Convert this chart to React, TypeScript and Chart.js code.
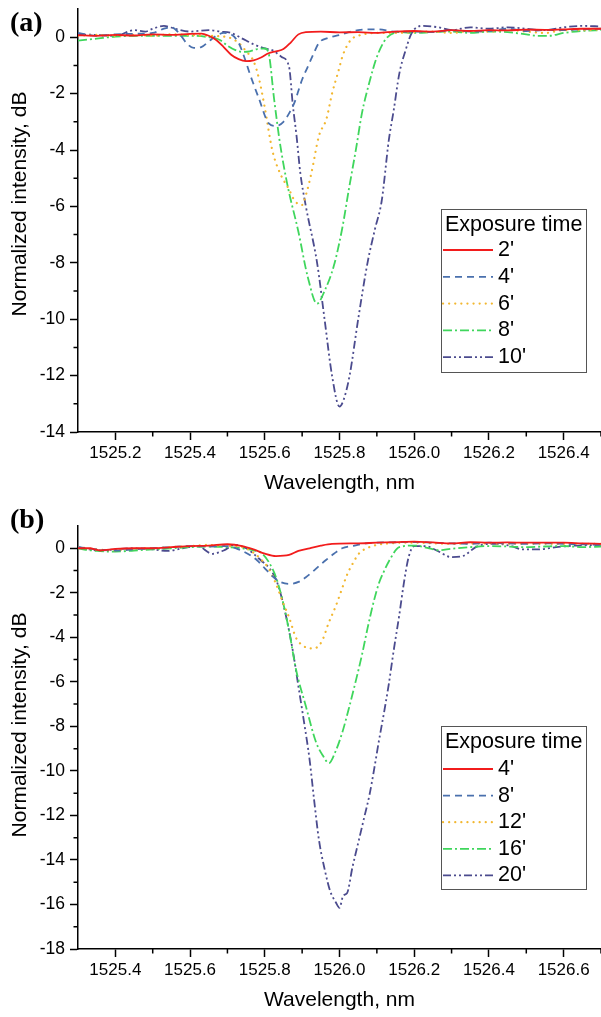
import React, { useEffect, useRef } from 'react';
import { Chart, registerables } from 'chart.js';
Chart.register(...registerables);

// ---------------- DATA ----------------
const seriesLabelsA = ["2'", "4'", "6'", "8'", "10'"];
const seriesLabelsB = ["4'", "8'", "12'", "16'", "20'"];

const xTicksA = [1525.2, 1525.4, 1525.6, 1525.8, 1526.0, 1526.2, 1526.4];
const xMinorA = [1525.3, 1525.5, 1525.7, 1525.9, 1526.1, 1526.3, 1526.5];
const yTicksA = [-14, -12, -10, -8, -6, -4, -2, 0];
const yMinorA = [-13, -11, -9, -7, -5, -3, -1];

const xTicksB = [1525.4, 1525.6, 1525.8, 1526.0, 1526.2, 1526.4, 1526.6];
const xMinorB = [1525.5, 1525.7, 1525.9, 1526.1, 1526.3, 1526.5, 1526.7];
const yTicksB = [-18, -16, -14, -12, -10, -8, -6, -4, -2, 0];
const yMinorB = [-17, -15, -13, -11, -9, -7, -5, -3, -1];

// Panel (a)
const wlA2 = [1525.10,1525.15,1525.20,1525.25,1525.30,1525.35,1525.40,1525.43,1525.45,1525.47,1525.49,1525.51,1525.53,1525.55,1525.57,1525.59,1525.61,1525.63,1525.65,1525.67,1525.69,1525.71,1525.75,1525.80,1525.85,1525.90,1525.95,1526.00,1526.05,1526.10,1526.15,1526.20,1526.25,1526.30,1526.35,1526.40,1526.45,1526.50];
const dbA2 = [0.07,0.05,0.08,0.06,0.10,0.08,0.12,0.13,0.05,-0.10,-0.35,-0.62,-0.78,-0.85,-0.82,-0.72,-0.57,-0.50,-0.42,-0.18,0.10,0.18,0.20,0.17,0.18,0.15,0.20,0.22,0.20,0.25,0.22,0.25,0.24,0.27,0.26,0.28,0.30,0.30];

const wlA4 = [1525.10,1525.15,1525.20,1525.25,1525.30,1525.33,1525.35,1525.37,1525.39,1525.41,1525.43,1525.45,1525.47,1525.49,1525.51,1525.53,1525.545,1525.56,1525.585,1525.61,1525.63,1525.65,1525.665,1525.68,1525.69,1525.70,1525.715,1525.73,1525.745,1525.77,1525.80,1525.85,1525.90,1525.95,1526.00,1526.05,1526.10,1526.15,1526.20,1526.25,1526.30,1526.35,1526.40,1526.45,1526.50];
const dbA4 = [0.15,0.05,0.10,0.12,0.15,0.30,0.35,0.15,-0.20,-0.38,-0.35,-0.15,0.05,0.15,0.10,-0.20,-0.70,-1.30,-2.20,-3.05,-3.15,-3.00,-2.70,-2.30,-1.90,-1.50,-1.05,-0.60,-0.20,-0.02,0.08,0.25,0.28,0.20,0.20,0.18,0.25,0.20,0.22,0.30,0.22,0.25,0.25,0.28,0.30];

const wlA6 = [1525.10,1525.15,1525.20,1525.25,1525.30,1525.35,1525.40,1525.45,1525.50,1525.53,1525.55,1525.57,1525.585,1525.60,1525.62,1525.64,1525.665,1525.68,1525.70,1525.71,1525.725,1525.745,1525.765,1525.78,1525.795,1525.81,1525.83,1525.85,1525.90,1525.95,1526.00,1526.05,1526.10,1526.15,1526.20,1526.25,1526.30,1526.35,1526.40,1526.45,1526.50];
const dbA6 = [0.05,0.08,0.05,0.08,0.05,0.10,0.08,0.05,0.00,-0.20,-0.50,-0.85,-1.50,-2.50,-4.00,-4.80,-5.40,-5.80,-5.95,-5.60,-4.80,-3.50,-2.90,-2.00,-1.30,-0.60,-0.10,0.05,0.15,0.15,0.18,0.20,0.15,0.22,0.20,0.25,0.20,0.15,0.25,0.25,0.28];

const wlA8 = [1525.10,1525.15,1525.20,1525.25,1525.30,1525.35,1525.40,1525.45,1525.48,1525.50,1525.52,1525.54,1525.56,1525.58,1525.60,1525.61,1525.625,1525.64,1525.66,1525.69,1525.715,1525.74,1525.76,1525.785,1525.807,1525.825,1525.845,1525.86,1525.88,1525.90,1525.925,1525.96,1526.00,1526.05,1526.10,1526.15,1526.20,1526.25,1526.30,1526.33,1526.36,1526.40,1526.45,1526.50];
const dbA8 = [-0.12,-0.05,0.02,0.05,0.05,0.05,0.05,0.00,-0.10,-0.30,-0.45,-0.52,-0.50,-0.42,-0.40,-0.55,-2.20,-3.70,-5.20,-6.90,-8.50,-9.45,-9.00,-8.10,-6.80,-5.40,-3.90,-2.70,-1.60,-0.70,-0.05,0.18,0.15,0.18,0.20,0.15,0.20,0.18,0.10,0.05,0.05,0.15,0.22,0.25];

const wlA10 = [1525.10,1525.15,1525.20,1525.25,1525.28,1525.30,1525.33,1525.36,1525.40,1525.45,1525.48,1525.51,1525.54,1525.57,1525.60,1525.62,1525.645,1525.665,1525.675,1525.685,1525.695,1525.71,1525.74,1525.76,1525.78,1525.80,1525.81,1525.827,1525.85,1525.875,1525.895,1525.913,1525.932,1525.945,1525.96,1525.977,1525.993,1526.02,1526.065,1526.10,1526.15,1526.20,1526.25,1526.30,1526.35,1526.40,1526.45,1526.50];
const dbA10 = [0.10,0.08,0.05,0.25,0.20,0.30,0.40,0.30,0.20,0.25,0.20,0.15,-0.05,-0.25,-0.40,-0.46,-0.70,-1.05,-2.40,-3.50,-4.80,-6.00,-8.00,-10.00,-12.00,-13.10,-12.90,-12.00,-10.00,-8.00,-6.80,-5.80,-3.65,-2.60,-1.30,-0.46,0.14,0.40,0.35,0.25,0.35,0.30,0.35,0.30,0.25,0.35,0.40,0.38];

// Panel (b)
const wlB4 = [1525.30,1525.33,1525.36,1525.40,1525.45,1525.50,1525.55,1525.60,1525.65,1525.70,1525.74,1525.77,1525.80,1525.83,1525.865,1525.89,1525.92,1525.95,1525.98,1526.05,1526.10,1526.15,1526.20,1526.25,1526.30,1526.35,1526.40,1526.45,1526.50,1526.55,1526.60,1526.65,1526.70];
const dbB4 = [0.00,0.00,-0.10,-0.03,0.00,0.00,0.05,0.10,0.12,0.18,0.10,-0.05,-0.24,-0.35,-0.30,-0.12,0.00,0.12,0.20,0.22,0.25,0.27,0.30,0.26,0.22,0.27,0.25,0.26,0.25,0.25,0.25,0.22,0.20];

const wlB8 = [1525.30,1525.35,1525.40,1525.45,1525.50,1525.55,1525.60,1525.65,1525.70,1525.73,1525.76,1525.78,1525.80,1525.82,1525.84,1525.865,1525.892,1525.91,1525.927,1525.945,1525.963,1525.985,1526.007,1526.04,1526.07,1526.10,1526.15,1526.20,1526.25,1526.30,1526.35,1526.40,1526.45,1526.50,1526.55,1526.60,1526.65,1526.70];
const dbB8 = [0.05,-0.05,-0.10,-0.05,0.00,0.05,0.10,0.08,0.10,-0.05,-0.30,-0.55,-0.90,-1.25,-1.50,-1.60,-1.50,-1.30,-1.07,-0.80,-0.54,-0.25,0.00,0.12,0.22,0.25,0.27,0.28,0.25,0.22,0.20,0.25,0.22,0.20,0.22,0.20,0.18,0.15];

const wlB12 = [1525.30,1525.35,1525.40,1525.45,1525.50,1525.55,1525.60,1525.65,1525.70,1525.74,1525.77,1525.79,1525.81,1525.83,1525.85,1525.865,1525.883,1525.90,1525.924,1525.94,1525.955,1525.97,1525.99,1526.005,1526.02,1526.035,1526.052,1526.08,1526.12,1526.20,1526.30,1526.40,1526.50,1526.60,1526.70];
const dbB12 = [0.05,-0.05,-0.10,-0.02,0.00,0.05,0.10,0.15,0.10,0.05,-0.20,-0.50,-0.90,-1.60,-2.50,-3.10,-4.00,-4.35,-4.50,-4.45,-4.10,-3.40,-2.60,-1.90,-1.20,-0.70,-0.24,0.05,0.20,0.25,0.20,0.22,0.20,0.20,0.20];

const wlB16 = [1525.30,1525.35,1525.40,1525.45,1525.50,1525.55,1525.60,1525.65,1525.70,1525.74,1525.77,1525.79,1525.81,1525.83,1525.847,1525.865,1525.883,1525.91,1525.937,1525.955,1525.972,1525.99,1526.007,1526.025,1526.043,1526.06,1526.075,1526.09,1526.105,1526.12,1526.135,1526.16,1526.20,1526.24,1526.265,1526.30,1526.35,1526.40,1526.45,1526.50,1526.55,1526.60,1526.65,1526.70];
const dbB16 = [-0.02,-0.12,-0.15,-0.10,-0.05,0.00,0.05,0.08,0.05,0.00,-0.10,-0.20,-0.60,-1.30,-2.30,-3.70,-5.40,-7.10,-8.70,-9.30,-9.65,-9.10,-8.30,-7.20,-6.00,-4.80,-3.60,-2.50,-1.60,-1.00,-0.50,0.05,0.12,0.00,-0.09,-0.02,0.05,0.10,0.08,0.05,0.08,0.10,0.05,0.08];

const wlB20 = [1525.30,1525.33,1525.36,1525.40,1525.45,1525.50,1525.54,1525.58,1525.62,1525.66,1525.69,1525.72,1525.75,1525.77,1525.79,1525.81,1525.83,1525.845,1525.86,1525.875,1525.89,1525.905,1525.92,1525.932,1525.945,1525.96,1525.975,1525.99,1526.00,1526.01,1526.02,1526.035,1526.052,1526.066,1526.08,1526.093,1526.105,1526.12,1526.132,1526.145,1526.16,1526.172,1526.185,1526.20,1526.23,1526.26,1526.30,1526.33,1526.37,1526.42,1526.46,1526.49,1526.53,1526.58,1526.63,1526.70];
const dbB20 = [0.05,-0.05,-0.10,-0.05,0.00,-0.05,-0.12,0.00,0.10,-0.25,-0.10,0.15,0.00,-0.25,-0.55,-0.85,-1.40,-2.20,-3.30,-4.60,-6.20,-7.80,-9.50,-11.30,-13.10,-14.40,-15.40,-15.90,-16.15,-15.60,-15.50,-14.30,-13.10,-12.10,-11.10,-9.90,-8.70,-7.30,-6.10,-4.60,-3.00,-1.60,-0.40,0.10,0.10,-0.10,-0.40,-0.35,0.10,0.20,0.10,-0.05,-0.05,0.05,0.12,0.15];

// ---------------- STYLE ----------------
const SANS = '"Liberation Sans", Arial, Helvetica, sans-serif';
const SERIF = '"Liberation Serif", "Times New Roman", serif';
const COLORS = ['#f21c1c', '#4a70ad', '#f2b730', '#3fd65c', '#4b4b8e'];
const DASHES: number[][] = [[], [7, 5], [0.1, 6], [9, 3, 2, 3], [8, 3, 2, 3, 2, 3]];
const Y_TITLE = 'Normalized intensity, dB';
const LEGEND_TITLE = 'Exposure time';

type PanelCfg = {
  tag: string; tagX: number; tagY: number;
  labels: string[]; wls: number[][]; dbs: number[][];
  xMin: number; xMax: number; yMin: number; yMax: number;
  xTicks: number[]; xMinor: number[]; yTicks: number[]; yMinor: number[];
  height: number; padTop: number; yTitleX: number; yTitleCY: number;
  legend: { x: number; y: number; w: number; h: number; titleY: number; firstY: number; step: number; lx0: number; lx1: number; tx: number };
};

const panelA: PanelCfg = {
  tag: '(a)', tagX: 10, tagY: 31,
  labels: seriesLabelsA, wls: [wlA2, wlA4, wlA6, wlA8, wlA10], dbs: [dbA2, dbA4, dbA6, dbA8, dbA10],
  xMin: 1525.1, xMax: 1526.5, yMin: -14, yMax: 1,
  xTicks: xTicksA, xMinor: xMinorA, yTicks: yTicksA, yMinor: yMinorA,
  height: 500, padTop: 9, yTitleX: 26, yTitleCY: 204,
  legend: { x: 441, y: 209, w: 145, h: 163, titleY: 225, firstY: 250, step: 26.8, lx0: 443, lx1: 493, tx: 498 },
};

const panelB: PanelCfg = {
  tag: '(b)', tagX: 10, tagY: 28,
  labels: seriesLabelsB, wls: [wlB4, wlB8, wlB12, wlB16, wlB20], dbs: [dbB4, dbB8, dbB12, dbB16, dbB20],
  xMin: 1525.3, xMax: 1526.7, yMin: -18, yMax: 1,
  xTicks: xTicksB, xMinor: xMinorB, yTicks: yTicksB, yMinor: yMinorB,
  height: 517, padTop: 26, yTitleX: 26, yTitleCY: 225,
  legend: { x: 441, y: 226, w: 145, h: 163, titleY: 242, firstY: 269, step: 26.6, lx0: 443, lx1: 493, tx: 498 },
};

function decorPlugin(p: PanelCfg) {
  return {
    id: 'decor',
    afterDraw(chart: any) {
      const { ctx, chartArea, scales } = chart;
      const xs = scales.x, ys = scales.y;
      ctx.save();
      // minor ticks
      ctx.strokeStyle = '#000';
      ctx.lineWidth = 1.5;
      ctx.setLineDash([]);
      ctx.beginPath();
      p.xMinor.forEach((v) => {
        const px = xs.getPixelForValue(v);
        if (px >= chartArea.left && px <= chartArea.right + 1) {
          ctx.moveTo(px, chartArea.bottom);
          ctx.lineTo(px, chartArea.bottom + 4.5);
        }
      });
      p.yMinor.forEach((v) => {
        const py = ys.getPixelForValue(v);
        ctx.moveTo(chartArea.left - 4.5, py);
        ctx.lineTo(chartArea.left, py);
      });
      ctx.stroke();
      // y-axis title
      ctx.save();
      ctx.translate(p.yTitleX, p.yTitleCY);
      ctx.rotate(-Math.PI / 2);
      ctx.fillStyle = '#000';
      ctx.font = `21px ${SANS}`;
      ctx.textAlign = 'center';
      ctx.textBaseline = 'alphabetic';
      ctx.fillText(Y_TITLE, 0, 0);
      ctx.restore();
      // panel tag
      ctx.fillStyle = '#000';
      ctx.font = `bold 28px ${SERIF}`;
      ctx.textBaseline = 'alphabetic';
      ctx.textAlign = 'left';
      ctx.fillText(p.tag, p.tagX, p.tagY);
      // legend
      const L = p.legend;
      ctx.fillStyle = '#fff';
      ctx.fillRect(L.x, L.y, L.w, L.h);
      ctx.strokeStyle = '#555';
      ctx.lineWidth = 1;
      ctx.strokeRect(L.x + 0.5, L.y + 0.5, L.w, L.h);
      ctx.fillStyle = '#000';
      ctx.font = `21.5px ${SANS}`;
      ctx.textBaseline = 'middle';
      ctx.fillText(LEGEND_TITLE, L.x + 4, L.titleY);
      chart.data.datasets.forEach((ds: any, i: number) => {
        const y = L.firstY + i * L.step;
        ctx.save();
        ctx.strokeStyle = ds.borderColor;
        ctx.lineWidth = ds.borderWidth;
        ctx.lineCap = ds.borderCapStyle || 'butt';
        ctx.setLineDash(ds.borderDash || []);
        ctx.beginPath();
        ctx.moveTo(L.lx0, y);
        ctx.lineTo(L.lx1, y);
        ctx.stroke();
        ctx.restore();
        ctx.fillStyle = '#000';
        ctx.fillText(ds.label, L.tx, y);
      });
      ctx.restore();
    },
  };
}

function PanelChart({ p }: { p: PanelCfg }) {
  const ref = useRef<HTMLCanvasElement>(null);
  useEffect(() => {
    const datasets = p.labels.map((label, i) => ({
      label,
      data: p.wls[i].slice(0, Math.min(p.wls[i].length, p.dbs[i].length)).map((x, j) => ({ x, y: p.dbs[i][j] })),
      borderColor: COLORS[i],
      backgroundColor: COLORS[i],
      borderWidth: i === 2 ? 2.2 : 1.8,
      borderDash: DASHES[i],
      borderCapStyle: i === 2 ? 'round' : 'butt',
      pointRadius: 0,
      fill: false,
      cubicInterpolationMode: 'monotone',
    }));
    const chart = new Chart(ref.current as HTMLCanvasElement, {
      type: 'line',
      data: { datasets } as any,
      options: {
        animation: false,
        responsive: false,
        devicePixelRatio: 1,
        layout: { padding: { top: p.padTop, left: 0, right: 0, bottom: 0 } },
        plugins: { legend: { display: false }, tooltip: { enabled: false } },
        scales: {
          x: {
            type: 'linear',
            min: p.xMin,
            max: p.xMax,
            afterBuildTicks: (s: any) => { s.ticks = p.xTicks.map((v) => ({ value: v })); },
            afterFit: (s: any) => { s.height = 68; s.paddingLeft = 0; s.paddingRight = 0; },
            ticks: {
              autoSkip: false, maxRotation: 0, color: '#000', padding: 3,
              font: { family: SANS, size: 17 },
              callback: (v: any) => Number(v).toFixed(1),
            },
            grid: { drawOnChartArea: false, drawTicks: true, tickLength: 8, tickColor: '#000', tickWidth: 1.5 },
            border: { display: true, color: '#000', width: 1.5 },
            title: { display: true, text: 'Wavelength, nm', color: '#000', font: { family: SANS, size: 21 }, padding: { top: 4, bottom: 4 } },
          },
          y: {
            type: 'linear',
            min: p.yMin,
            max: p.yMax,
            afterBuildTicks: (s: any) => { s.ticks = p.yTicks.map((v) => ({ value: v })); },
            afterFit: (s: any) => { s.width = 78; s.paddingTop = 0; s.paddingBottom = 0; },
            ticks: {
              autoSkip: false, color: '#000', padding: 5,
              font: { family: SANS, size: 17.5 },
              callback: (v: any) => String(v),
            },
            grid: { drawOnChartArea: false, drawTicks: true, tickLength: 8, tickColor: '#000', tickWidth: 1.5 },
            border: { display: true, color: '#000', width: 1.5 },
            title: { display: false },
          },
        },
      } as any,
      plugins: [decorPlugin(p)],
    });
    return () => chart.destroy();
  }, [p]);
  return <canvas ref={ref} width={601} height={p.height} style={{ display: 'block', width: 601, height: p.height }} />;
}

export default function App() {
  return (
    <div style={{ position: 'absolute', left: 0, top: 0, width: 601, height: 1017, background: '#fff' }}>
      <PanelChart p={panelA} />
      <PanelChart p={panelB} />
    </div>
  );
}
